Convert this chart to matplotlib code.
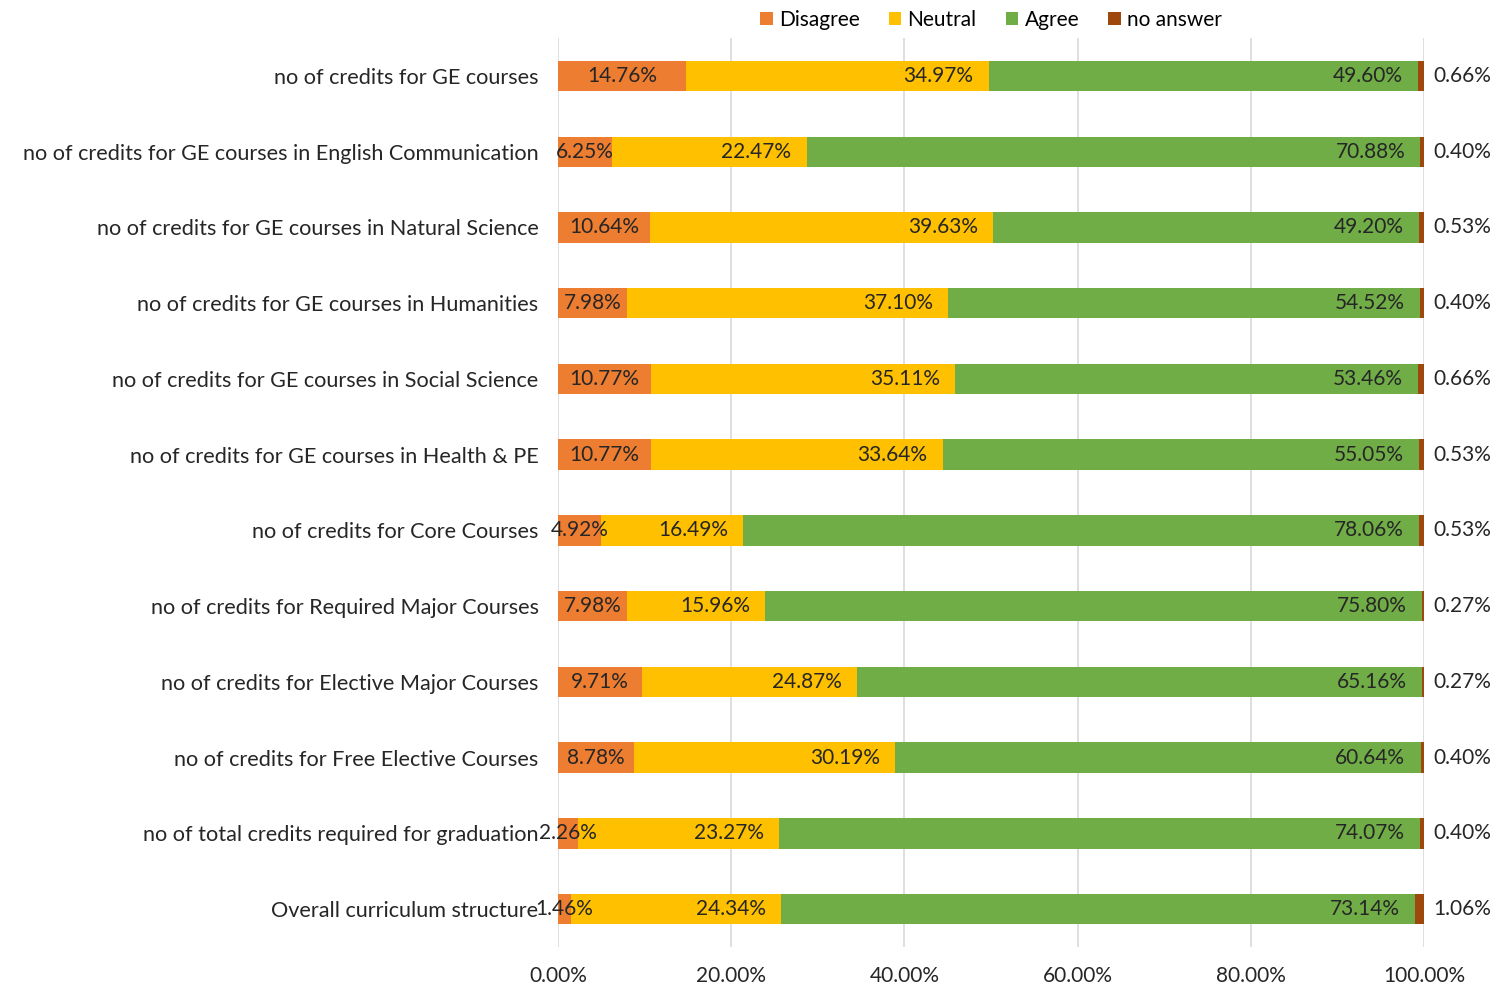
import matplotlib.pyplot as plt
import numpy as np

plt.rcParams['font.family'] = ['Lato', 'DejaVu Sans']

categories = [
    'no of credits for GE courses',
    'no of credits for GE courses in English Communication',
    'no of credits for GE courses in Natural Science',
    'no of credits for GE courses in Humanities',
    'no of credits for GE courses in Social Science',
    'no of credits for GE courses in Health & PE',
    'no of credits for Core Courses',
    'no of credits for Required Major Courses',
    'no of credits for Elective Major Courses',
    'no of credits for Free Elective Courses',
    'no of total credits required for graduation',
    'Overall curriculum structure',
]
disagree = [14.76, 6.25, 10.64, 7.98, 10.77, 10.77, 4.92, 7.98, 9.71, 8.78, 2.26, 1.46]
neutral = [34.97, 22.47, 39.63, 37.10, 35.11, 33.64, 16.49, 15.96, 24.87, 30.19, 23.27, 24.34]
agree = [49.60, 70.88, 49.20, 54.52, 53.46, 55.05, 78.06, 75.80, 65.16, 60.64, 74.07, 73.14]
no_answer = [0.66, 0.40, 0.53, 0.40, 0.66, 0.53, 0.53, 0.27, 0.27, 0.40, 0.40, 1.06]

series = [('Disagree', disagree, '#ED7D31'),
          ('Neutral', neutral, '#FFC000'),
          ('Agree', agree, '#70AD47'),
          ('no answer', no_answer, '#9E480E')]

fig = plt.figure(figsize=(15.03, 9.88), dpi=100)
ax = fig.add_axes([0.3713, 0.0415, 0.5761, 0.92])

y = np.arange(len(categories))
left = np.zeros(len(categories))
conts = []
for name, vals, col in series:
    vals = np.array(vals)
    c = ax.barh(y, vals, left=left, height=0.4, color=col, label=name, zorder=2)
    conts.append((c, vals, left.copy()))
    left = left + vals

fs = 15
txtcol = '#262626'
# Disagree: centered
c, vals, lf = conts[0]
ax.bar_label(c, labels=['%.2f%%' % v for v in vals], label_type='center',
             fontsize=fs, color=txtcol)
# Neutral and Agree: inside end
for c, vals, lf in conts[1:3]:
    for yi, v, l0 in zip(y, vals, lf):
        ax.annotate('%.2f%%' % v, (l0 + v, yi), xytext=(-11, 0),
                    textcoords='offset points', ha='right', va='center',
                    fontsize=fs, color=txtcol)
# no answer: outside
c, vals, lf = conts[3]
for yi, v in zip(y, vals):
    ax.annotate('%.2f%%' % v, (100, yi), xytext=(7, 0),
                textcoords='offset points', ha='left', va='center',
                fontsize=fs, color=txtcol)

ax.set_xlim(0, 100)
ax.set_ylim(len(categories) - 0.5, -0.5)
ax.set_yticks(y)
ax.set_yticklabels(categories, fontsize=15.6, color=txtcol)
ax.set_xticks(np.arange(0, 101, 20))
ax.set_xticklabels(['%.2f%%' % v for v in np.arange(0, 101, 20)], fontsize=fs, color=txtcol)
ax.tick_params(axis='both', length=0)
ax.tick_params(axis='y', pad=14)
ax.tick_params(axis='x', pad=14)
ax.grid(axis='x', color='#D9D9D9', linewidth=1.2, zorder=0)
ax.set_axisbelow(True)
for s in ax.spines.values():
    s.set_visible(False)

ax.legend(loc='lower center', bbox_to_anchor=(0.5, 1.0), ncol=4, frameon=False,
          fontsize=fs, handlelength=0.6, handleheight=0.6, handletextpad=0.3,
          columnspacing=1.4, borderaxespad=0)

fig.savefig('out.png', dpi=100)
